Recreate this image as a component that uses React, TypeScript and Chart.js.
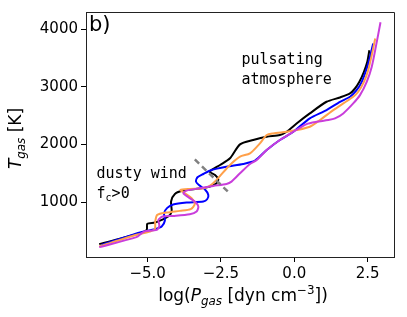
import React, { useEffect, useRef } from "react";
import { Chart, registerables } from "chart.js";

Chart.register(...registerables);

// Tick values
const xTicks = [-5, -2.5, 0, 2.5];
const yTicks = [1000, 2000, 3000, 4000];

// Black model
const blackP = [-6.65, -5.26, -5.03, -5.01, -4.75, -4.52, -4.3, -4.18, -4.2, -4.07, -3.78, -3.22, -2.88, -2.65, -2.59, -2.7, -2.88, -2.53, -2.19, -1.85, -1.4, -0.94, -0.49, -0.26, 0.08, 0.53, 1.1, 1.56, 1.9, 2.07, 2.22, 2.375, 2.49, 2.56];
const blackT = [273, 463, 521, 625, 648, 694, 752, 838, 1012, 1144, 1202, 1237, 1271, 1329, 1398, 1473, 1531, 1646, 1762, 2004, 2079, 2137, 2166, 2223, 2367, 2541, 2743, 2818, 2887, 2973, 3089, 3262, 3435, 3637];

// Blue model
const blueP = [-6.57, -5.26, -4.75, -4.52, -4.41, -4.44, -4.33, -4.13, -3.67, -3.1, -2.97, -2.93, -3.05, -3.24, -3.35, -3.3, -3.1, -2.82, -2.31, -1.74, -1.34, -0.94, -0.49, -0.03, 0.53, 1.1, 1.56, 1.9, 2.125, 2.3, 2.47, 2.58, 2.69];
const blueT = [261, 475, 533, 579, 683, 810, 902, 960, 994, 1012, 1052, 1127, 1225, 1294, 1358, 1433, 1490, 1560, 1617, 1664, 1721, 1906, 2079, 2223, 2456, 2598, 2743, 2829, 2944, 3089, 3320, 3521, 3752];

// Orange model
const orangeP = [-6.65, -5.38, -4.92, -4.75, -4.74, -4.67, -4.35, -3.9, -3.53, -3.39, -3.5, -3.73, -3.88, -3.56, -3.1, -2.88, -2.65, -2.25, -1.85, -1.51, -1.17, -0.94, -0.72, -0.26, 0.08, 0.53, 0.875, 1.33, 1.67, 2.01, 2.18, 2.375, 2.52, 2.64, 2.76];
const orangeT = [233, 435, 492, 533, 665, 781, 821, 850, 879, 971, 1069, 1156, 1213, 1231, 1242, 1283, 1387, 1617, 1790, 1848, 2021, 2166, 2194, 2223, 2252, 2310, 2425, 2598, 2714, 2829, 2916, 3089, 3291, 3550, 3839];

// Purple model
const purpleP = [-6.65, -5.38, -5.2, -5.09, -4.69, -4.6, -4.63, -4.49, -4.13, -3.56, -3.33, -3.27, -3.39, -3.61, -3.78, -3.67, -3.22, -2.76, -2.31, -2.14, -1.85, -1.51, -1.28, -0.94, -0.49, -0.03, 0.42, 0.76, 1.16, 1.39, 1.67, 2.01, 2.24, 2.47, 2.64, 2.78, 2.94];
const purpleT = [221, 394, 463, 498, 521, 590, 694, 752, 763, 792, 838, 925, 1012, 1087, 1156, 1202, 1242, 1283, 1317, 1358, 1502, 1664, 1733, 1906, 2079, 2223, 2356, 2396, 2425, 2454, 2541, 2714, 2858, 3089, 3348, 3695, 4122];

// Dashed boundary line (wind / atmosphere)
const dashP = [-3.39, -2.17];
const dashT = [1744, 1138];

const pts = (xs: number[], ys: number[]) => xs.map((x, i) => ({ x, y: ys[i] }));

type Part = { t: string; it?: boolean; sub?: boolean; sup?: boolean };

function drawRich(ctx: CanvasRenderingContext2D, parts: Part[], size: number, family: string, cx: number, cy: number) {
  const fontFor = (p: Part) => {
    const s = p.sub || p.sup ? size * 0.7 : size;
    return `${p.it ? "italic " : ""}${s}px ${family}`;
  };
  let total = 0;
  const widths = parts.map((p) => {
    ctx.font = fontFor(p);
    const w = ctx.measureText(p.t).width;
    total += w;
    return w;
  });
  let x = cx - total / 2;
  ctx.textBaseline = "middle";
  ctx.textAlign = "left";
  parts.forEach((p, i) => {
    ctx.font = fontFor(p);
    const dy = p.sub ? size * 0.3 : p.sup ? -size * 0.35 : 0;
    ctx.fillText(p.t, x, cy + dy);
    x += widths[i];
  });
}

const textPlugin = {
  id: "texts",
  afterDraw(chart: any) {
    const ctx: CanvasRenderingContext2D = chart.ctx;
    const { left, right, top, bottom } = chart.chartArea;
    const xs = chart.scales.x;
    const ys = chart.scales.y;
    ctx.save();
    // top & right spines
    ctx.strokeStyle = "#222";
    ctx.lineWidth = 1;
    ctx.beginPath();
    ctx.moveTo(left, top + 0.5);
    ctx.lineTo(right + 0.5, top + 0.5);
    ctx.lineTo(right + 0.5, bottom);
    ctx.stroke();

    ctx.fillStyle = "#000";
    // panel label
    ctx.font = "21px 'DejaVu Sans'";
    ctx.textAlign = "left";
    ctx.textBaseline = "top";
    ctx.fillText("b)", left + 3, top + 3);

    // annotations
    ctx.font = "15px 'DejaVu Sans Mono'";
    ctx.textBaseline = "middle";
    const ax = xs.getPixelForValue(-1.8);
    ctx.fillText("pulsating", ax, ys.getPixelForValue(3460));
    ctx.fillText("atmosphere", ax, ys.getPixelForValue(3115));
    const dx = xs.getPixelForValue(-6.74);
    ctx.fillText("dusty wind", dx, ys.getPixelForValue(1480));
    const fy = ys.getPixelForValue(1140);
    ctx.fillText("f", dx, fy);
    const fw = ctx.measureText("f").width;
    ctx.font = "10px 'DejaVu Sans Mono'";
    ctx.fillText("c", dx + fw, fy + 4);
    const cw = ctx.measureText("c").width;
    ctx.font = "15px 'DejaVu Sans Mono'";
    ctx.fillText(">0", dx + fw + cw, fy);

    // x axis title
    drawRich(
      ctx,
      [
        { t: "log(" },
        { t: "P", it: true },
        { t: "gas", it: true, sub: true },
        { t: " [dyn cm" },
        { t: "\u22123", sup: true },
        { t: "])" },
      ],
      17,
      "'DejaVu Sans'",
      (left + right) / 2 + 3,
      297
    );
    // y axis title
    ctx.translate(17, (top + bottom) / 2 + 4);
    ctx.rotate(-Math.PI / 2);
    drawRich(
      ctx,
      [{ t: "T", it: true }, { t: "gas", it: true, sub: true }, { t: " [K]" }],
      17,
      "'DejaVu Sans'",
      0,
      0
    );
    ctx.restore();
  },
};

export default function App() {
  const ref = useRef<HTMLCanvasElement>(null);
  useEffect(() => {
    document.body.style.margin = "0";
    const line = (data: any, color: string, extra: any = {}) => ({
      data,
      borderColor: color,
      backgroundColor: color,
      borderWidth: 2,
      pointRadius: 0,
      showLine: true,
      fill: false,
      tension: 0.25,
      ...extra,
    });
    const chart = new Chart(ref.current!, {
      type: "scatter",
      data: {
        datasets: [
          line(pts(dashP, dashT), "#808080", { borderDash: [6, 4], borderWidth: 2.5, tension: 0 }),
          line(pts(purpleP, purpleT), "#c93ddb"),
          line(pts(orangeP, orangeT), "#ffa04a"),
          line(pts(blueP, blueT), "#0000ff"),
          line(pts(blackP, blackT), "#000000"),
        ],
      },
      options: {
        animation: false,
        responsive: false,
        layout: { padding: { top: 12, right: 13, left: 0, bottom: 0 } },
        plugins: { legend: { display: false }, tooltip: { enabled: false } },
        scales: {
          x: {
            type: "linear",
            min: -7.1,
            max: 3.4,
            afterBuildTicks: (s: any) => {
              s.ticks = xTicks.map((v) => ({ value: v }));
            },
            afterFit: (s: any) => {
              s.height = 60;
            },
            grid: { display: true, drawOnChartArea: false, drawTicks: true, tickLength: 5, color: "#000" },
            border: { display: true, color: "#222", width: 1 },
            ticks: {
              color: "#000",
              padding: 3,
              maxRotation: 0,
              font: { family: "'DejaVu Sans'", size: 15 },
              callback: (v: any) => (Number(v) < 0 ? "\u2212" : "") + Math.abs(Number(v)).toFixed(1),
            },
          },
          y: {
            type: "linear",
            min: 50,
            max: 4300,
            afterBuildTicks: (s: any) => {
              s.ticks = yTicks.map((v) => ({ value: v }));
            },
            afterFit: (s: any) => {
              s.width = 86;
            },
            grid: { display: true, drawOnChartArea: false, drawTicks: true, tickLength: 5, color: "#000" },
            border: { display: true, color: "#222", width: 1 },
            ticks: {
              color: "#000",
              padding: 3,
              font: { family: "'DejaVu Sans'", size: 15 },
              callback: (v: any) => String(v),
            },
          },
        },
      },
      plugins: [textPlugin],
    });
    return () => chart.destroy();
  }, []);
  return (
    <div style={{ width: 407, height: 317 }}>
      <canvas ref={ref} width={407} height={317} style={{ width: 407, height: 317, display: "block" }} />
    </div>
  );
}
